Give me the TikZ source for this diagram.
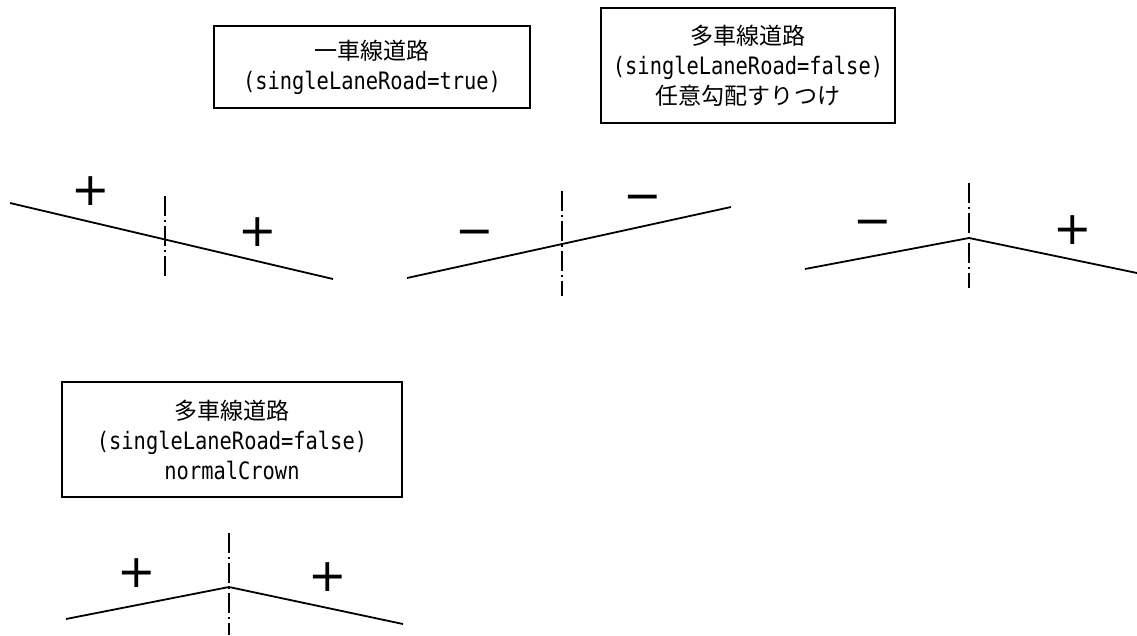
\documentclass[tikz,border=0pt]{standalone}
\usepackage{fontspec}
\newfontfamily\jpfont[Scale=0.96]{Noto Sans CJK JP}
\newfontfamily\monofont[FakeStretch=0.85]{DejaVu Sans Mono}
\newfontfamily\signfont{DejaVu Sans}
\tikzset{
	label box/.style={draw, line width=1.5pt, inner sep=0pt, align=center, font=\monofont\fontsize{24}{30}\selectfont},
	road/.style={line width=1.8pt},
	axis/.style={line width=1.6pt, dash pattern=on 20pt off 4pt on 2pt off 4pt},
	sign/.style={inner sep=0pt, font=\signfont\fontsize{46}{46}\selectfont}
}
\begin{document}
\begin{tikzpicture}[x=1pt,y=-1pt]
		\useasboundingbox (0,0) rectangle (1137,635);

		\node[label box, minimum width=316pt, minimum height=82pt] (single) at (372,67) {{\jpfont 一車線道路}\\(singleLaneRoad=true)};
		\node[label box, minimum width=294pt, minimum height=115pt] (multi) at (748,65.5) {{\jpfont 多車線道路}\\(singleLaneRoad=false)\\{\jpfont 任意勾配すりつけ}};
		\node[label box, minimum width=340pt, minimum height=115pt] (crown) at (232,439.5) {{\jpfont 多車線道路}\\(singleLaneRoad=false)\\normalCrown};

		\draw[road] (10,203) -- (333,279);
		\draw[axis] (165,196) -- (165,279);
		\node[sign] (p1a) at (91,191) {+};
		\node[sign] (p1b) at (258,232) {+};

		\draw[road] (407,278) -- (731,207);
		\draw[axis] (562,191) -- (562,296);
		\node[sign] (p2a) at (475,238) {−};
		\node[sign] (p2b) at (643,203) {−};

		\draw[road] (805,269) -- (969,238) -- (1137,273);
		\draw[axis] (969,183) -- (969,288);
		\node[sign] (p3a) at (873,228) {−};
		\node[sign] (p3b) at (1073,230) {+};

		\draw[road] (66,619) -- (229,587) -- (403,624);
		\draw[axis] (229,533) -- (229,635);
		\node[sign] (p4a) at (137,573) {+};
		\node[sign] (p4b) at (328,577) {+};
	\end{tikzpicture}
\end{document}
